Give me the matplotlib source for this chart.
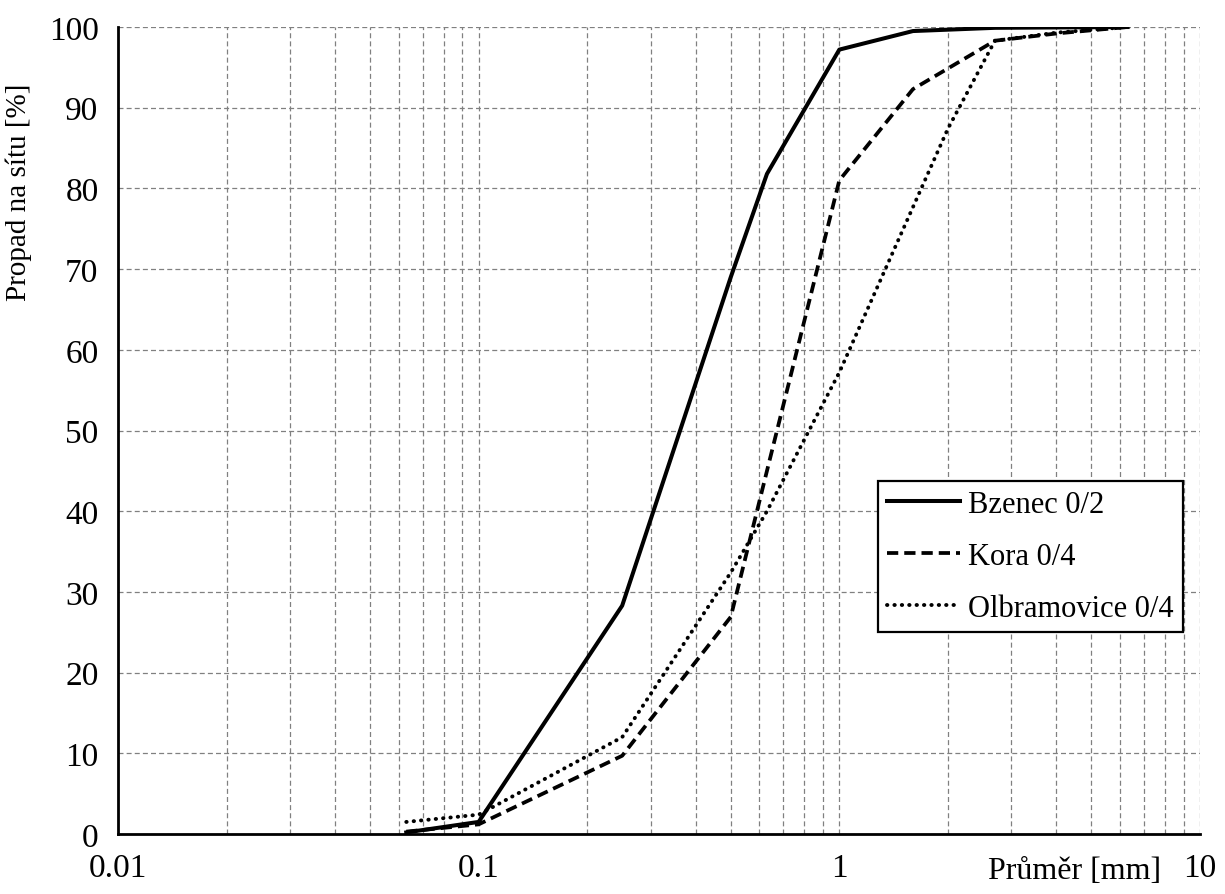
import matplotlib
matplotlib.use("Agg")
import matplotlib.pyplot as plt
from matplotlib.ticker import LogLocator, FixedLocator, NullFormatter

plt.rcParams['font.family'] = ['Liberation Serif', 'DejaVu Serif']

# sieve sizes [mm] and passing [%]
bzenec_d = [0.063, 0.1, 0.25, 0.5, 0.63, 1, 1.6, 2.7, 6.3]
bzenec_p = [0.2, 1.5, 28.3, 69.0, 81.8, 97.2, 99.5, 99.9, 100]

kora_d = [0.063, 0.1, 0.25, 0.5, 0.63, 1, 1.6, 2.7, 4, 6.3]
kora_p = [0.3, 1.2, 9.7, 26.9, 45.0, 81.0, 92.3, 98.3, 99.2, 100]

olbr_d = [0.063, 0.1, 0.25, 0.5, 0.63, 1, 2, 2.7, 4, 6.3]
olbr_p = [1.5, 2.4, 12.0, 32.4, 40.0, 57.2, 87.4, 98.3, 99.3, 100]

labels = ["Bzenec 0/2", "Kora 0/4", "Olbramovice 0/4"]
xticks = [0.01, 0.1, 1, 10]
xticklabels = ["0.01", "0.1", "1", "10"]

fig = plt.figure(figsize=(12.25, 8.95), dpi=100)
ax = fig.add_axes([0.0963, 0.067, 0.8833, 0.9017])

ax.plot(bzenec_d, bzenec_p, color='black', lw=2.9, ls='-', label=labels[0], zorder=3)
ax.plot(kora_d, kora_p, color='black', lw=2.7, ls=(0, (3.0, 1.6)), label=labels[1], zorder=3)
ax.plot(olbr_d, olbr_p, color='black', lw=2.8, ls=(0, (0.1, 1.8)),
        dash_capstyle='round', label=labels[2], zorder=3)

ax.set_xscale('log')
ax.set_xlim(0.01, 10)
ax.set_ylim(0, 100)
ax.xaxis.set_major_locator(FixedLocator(xticks))
ax.set_xticklabels(xticklabels)
ax.xaxis.set_minor_locator(LogLocator(base=10, subs=range(2, 10)))
ax.xaxis.set_minor_formatter(NullFormatter())
ax.set_yticks(range(0, 101, 10))

ax.grid(True, which='both', axis='x', color='#808080', ls=(0, (4, 2.5)), lw=0.9)
ax.grid(True, which='major', axis='y', color='#808080', ls=(0, (4, 2.5)), lw=0.9)
ax.set_axisbelow(True)

for s in ['top', 'right']:
    ax.spines[s].set_visible(False)
for s in ['left', 'bottom']:
    ax.spines[s].set_linewidth(2.0)
    ax.spines[s].set_zorder(4)

ax.tick_params(axis='both', which='both', length=0, labelsize=24)
ax.tick_params(axis='x', pad=13)
ax.tick_params(axis='y', pad=14)

ax.set_ylabel("Propad na sítu [%]", fontsize=21)
ax.yaxis.set_label_coords(-0.079, 0.797)

ax.text(0.8845, -0.045, "Průměr [mm]", transform=ax.transAxes, fontsize=23,
        ha='center', va='center')

leg = ax.legend(loc='upper left', bbox_to_anchor=(0.7024, 0.4378), fontsize=22,
                frameon=True, fancybox=False, edgecolor='black', framealpha=1,
                handlelength=2.4, handletextpad=0.25, borderpad=0.3,
                labelspacing=0.75, borderaxespad=0)
leg.get_frame().set_linewidth(1.6)

fig.savefig("out.png", dpi=100)
